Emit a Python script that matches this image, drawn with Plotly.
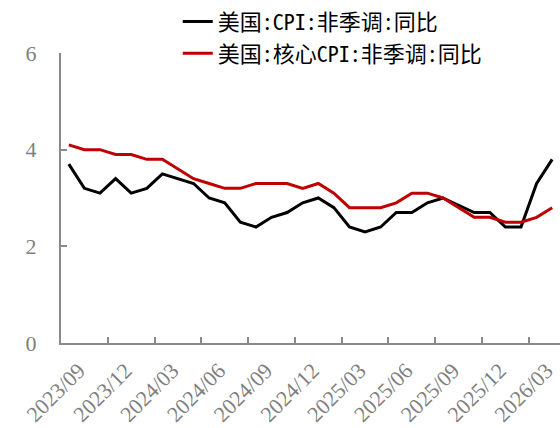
import plotly.graph_objects as go

months = [
    "2023/09", "2023/10", "2023/11", "2023/12", "2024/01", "2024/02", "2024/03", "2024/04",
    "2024/05", "2024/06", "2024/07", "2024/08", "2024/09", "2024/10", "2024/11", "2024/12",
    "2025/01", "2025/02", "2025/03", "2025/04", "2025/05", "2025/06", "2025/07", "2025/08",
    "2025/09", "2025/10", "2025/11", "2025/12", "2026/01", "2026/02", "2026/03", "2026/04",
]
cpi = [3.7, 3.2, 3.1, 3.4, 3.1, 3.2, 3.5, 3.4,
       3.3, 3.0, 2.9, 2.5, 2.4, 2.6, 2.7, 2.9,
       3.0, 2.8, 2.4, 2.3, 2.4, 2.7, 2.7, 2.9,
       3.0, None, 2.7, 2.7, 2.4, 2.4, 3.3, 3.8]
core_cpi = [4.1, 4.0, 4.0, 3.9, 3.9, 3.8, 3.8, 3.6,
            3.4, 3.3, 3.2, 3.2, 3.3, 3.3, 3.3, 3.2,
            3.3, 3.1, 2.8, 2.8, 2.8, 2.9, 3.1, 3.1,
            3.0, None, 2.6, 2.6, 2.5, 2.5, 2.6, 2.8]
tick_labels = months[::3]
y_ticks = [0, 2, 4, 6]

AX = "#898989"
n = len(months)

fig = go.Figure()
fig.add_trace(go.Scatter(x=months, y=cpi, mode="lines", name="美国:CPI:非季调:同比",
                         line=dict(color="#000000", width=3), connectgaps=True))
fig.add_trace(go.Scatter(x=months, y=core_cpi, mode="lines", name="美国:核心CPI:非季调:同比",
                         line=dict(color="#C00000", width=3), connectgaps=True))

fig.update_layout(
    width=560, height=428,
    margin=dict(l=61, r=0, t=53, b=85, autoexpand=False),
    paper_bgcolor="white", plot_bgcolor="white",
    showlegend=True,
    legend=dict(x=0.234, y=1.18, xanchor="left", yanchor="top",
                font=dict(family="Noto Sans Mono CJK SC, Noto Sans CJK SC", size=22, color="#000000"),
                bgcolor="rgba(0,0,0,0)", tracegroupgap=0),
    xaxis=dict(type="category", categoryorder="array", categoryarray=months,
               range=[-0.5, n - 0.5], tickmode="array", tickvals=tick_labels, ticktext=tick_labels,
               tickangle=-45, ticks="", showgrid=False, zeroline=False, automargin=False,
               showline=True, linecolor=AX, linewidth=2,
               ticklabelstandoff=4, ticklabelshift=10,
               tickfont=dict(family="Liberation Serif", size=22, color="#7f7f7f")),
    xaxis2=dict(overlaying="x", anchor="y", range=[-0.5, n - 0.5],
                tickmode="array", tickvals=[i - 0.5 for i in range(0, n, 3)],
                ticks="inside", ticklen=6, tickwidth=2, tickcolor=AX, automargin=False,
                showticklabels=False, showgrid=False, zeroline=False, showline=False,
                side="bottom"),
    yaxis=dict(range=[0, 6], tickmode="array", tickvals=y_ticks, ticks="inside",
               ticklen=6, tickwidth=2, tickcolor=AX, showgrid=False, zeroline=False,
               showline=True, linecolor=AX, linewidth=2, ticklabelstandoff=18, automargin=False,
               tickfont=dict(family="Liberation Serif", size=22, color="#7f7f7f")),
)
# invisible trace to activate xaxis2
fig.add_trace(go.Scatter(x=[0], y=[None], xaxis="x2", showlegend=False, hoverinfo="skip"))

fig.write_html("out.html", config={"displayModeBar": False},
               post_script="document.body.style.margin='0';document.body.style.overflow='hidden';")
